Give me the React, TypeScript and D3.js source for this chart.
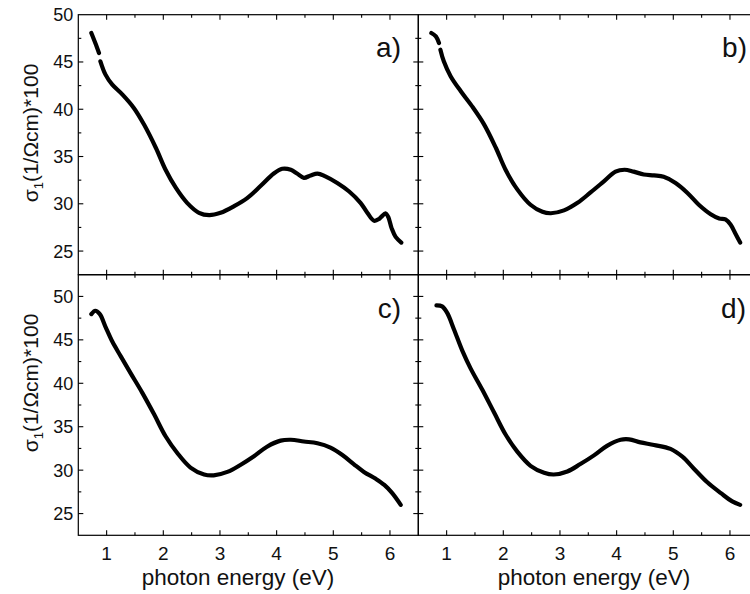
import React from "react";
import * as d3 from "d3";

// ---- data (photon energy in eV, sigma_1 in (1/Ωcm)*100); null marks a gap ----
const energyA = [0.73, 0.8, 0.865, 0.875, 0.89, 0.98, 1.1, 1.28, 1.48, 1.66, 1.87, 2.04, 2.22, 2.42, 2.63, 2.81, 3.01, 3.25, 3.48, 3.72, 3.95, 4.1, 4.25, 4.36, 4.48, 4.6, 4.72, 4.86, 5.07, 5.28, 5.48, 5.6, 5.72, 5.81, 5.86, 5.92, 5.97, 6.03, 6.1, 6.2];
const sigmaA = [48.06, 47.0, 45.95, null, 45.07, 43.66, 42.6, 41.55, 40.14, 38.38, 35.9, 33.6, 31.7, 30.1, 29.05, 28.8, 29.05, 29.75, 30.6, 31.9, 33.2, 33.7, 33.6, 33.2, 32.75, 33.0, 33.2, 32.9, 32.2, 31.3, 30.1, 29.05, 28.2, 28.4, 28.7, 29.0, 28.6, 27.4, 26.5, 25.9];

const energyB = [0.73, 0.81, 0.865, 0.875, 0.89, 0.95, 1.07, 1.25, 1.45, 1.66, 1.87, 2.04, 2.25, 2.48, 2.69, 2.84, 3.07, 3.31, 3.54, 3.78, 3.98, 4.14, 4.3, 4.48, 4.66, 4.83, 5.04, 5.25, 5.45, 5.66, 5.81, 5.92, 6.01, 6.1, 6.18];
const sigmaB = [48.06, 47.7, 47.0, null, 46.3, 45.07, 43.5, 41.9, 40.3, 38.4, 35.9, 33.6, 31.5, 29.9, 29.15, 29.0, 29.3, 30.1, 31.2, 32.4, 33.4, 33.6, 33.4, 33.1, 33.0, 32.85, 32.2, 31.15, 29.9, 28.9, 28.45, 28.35, 27.8, 26.8, 25.9];

const energyC = [0.73, 0.8, 0.88, 0.98, 1.1, 1.25, 1.42, 1.63, 1.84, 2.04, 2.25, 2.48, 2.72, 2.89, 3.13, 3.36, 3.6, 3.83, 4.07, 4.25, 4.48, 4.72, 4.95, 5.16, 5.36, 5.54, 5.75, 5.9, 6.04, 6.19];
const sigmaC = [47.96, 48.35, 47.96, 46.5, 44.8, 43.1, 41.2, 38.9, 36.4, 33.9, 31.95, 30.3, 29.5, 29.4, 29.8, 30.6, 31.6, 32.7, 33.4, 33.5, 33.3, 33.1, 32.6, 31.75, 30.7, 29.8, 29.0, 28.3, 27.35, 26.0];

const energyD = [0.82, 0.92, 1.01, 1.13, 1.28, 1.42, 1.63, 1.84, 2.04, 2.25, 2.48, 2.72, 2.89, 3.13, 3.36, 3.6, 3.83, 4.07, 4.22, 4.42, 4.66, 4.95, 5.16, 5.36, 5.6, 5.84, 6.04, 6.18];
const sigmaD = [48.96, 48.85, 48.1, 46.2, 43.7, 41.75, 39.25, 36.6, 34.1, 32.1, 30.5, 29.7, 29.5, 29.85, 30.7, 31.7, 32.8, 33.5, 33.55, 33.2, 32.9, 32.45, 31.55, 30.2, 28.6, 27.35, 26.4, 26.0];

const panelLabels = ["a)", "b)", "c)", "d)"];
const xMajorTicks = [1, 2, 3, 4, 5, 6];
const yMajorTicks = [25, 30, 35, 40, 45, 50];
const xTitle = "photon energy (eV)";

const W = 750;
const H = 594;
const X0 = 78.3, X1 = 418.3, X2 = 758.3;
const Y0 = 14.7, Y1 = 274.7, Y2 = 535.3;

const FONT = "Arial, 'Liberation Sans', sans-serif";

type PanelProps = {
  energy: number[];
  sigma: (number | null)[];
  left: number;
  right: number;
  top: number;
  bottom: number;
  yDomain: [number, number];
  label: string;
  showY: boolean;
  showX: boolean;
  labelX: number;
  labelY: number;
};

function Panel(p: PanelProps) {
  const x = d3.scaleLinear().domain([0.5, 6.5]).range([p.left, p.right]);
  const y = d3.scaleLinear().domain(p.yDomain).range([p.bottom, p.top]);
  const pts = p.energy.map((e, i) => [e, p.sigma[i]] as [number, number | null]);
  const line = d3
    .line<[number, number | null]>()
    .defined((d) => d[1] !== null)
    .x((d) => x(d[0]))
    .y((d) => y(d[1] as number))
    .curve(d3.curveCatmullRom.alpha(0.5));
  const xTicks = d3.range(1, 6.01, 0.5);
  const yTicks = d3.range(Math.ceil(p.yDomain[0] / 2.5) * 2.5, p.yDomain[1] - 0.01, 2.5).filter((v) => v > p.yDomain[0] + 0.01);
  const tl = (major: boolean) => (major ? 5 : 3);
  return (
    <g>
      <path d={line(pts) || ""} fill="none" stroke="#000" strokeWidth={4.2} strokeLinecap="round" strokeLinejoin="round" />
      <rect x={p.left} y={p.top} width={p.right - p.left} height={p.bottom - p.top} fill="none" stroke="#000" strokeWidth={1.2} />
      {xTicks.map((t) => {
        const major = Math.abs(t - Math.round(t)) < 1e-6;
        const xx = x(t);
        return (
          <g key={"xt" + t}>
            <line x1={xx} x2={xx} y1={p.bottom} y2={p.bottom - tl(major)} stroke="#000" strokeWidth={1.1} />
            <line x1={xx} x2={xx} y1={p.top} y2={p.top + tl(major)} stroke="#000" strokeWidth={1.1} />
          </g>
        );
      })}
      {yTicks.map((t) => {
        const major = Math.abs(t / 5 - Math.round(t / 5)) < 1e-6;
        const yy = y(t);
        return (
          <g key={"yt" + t}>
            <line x1={p.left} x2={p.left + tl(major)} y1={yy} y2={yy} stroke="#000" strokeWidth={1.1} />
            <line x1={p.right} x2={p.right - tl(major)} y1={yy} y2={yy} stroke="#000" strokeWidth={1.1} />
          </g>
        );
      })}
      {p.showY &&
        yMajorTicks
          .filter((t) => t >= p.yDomain[0] && t <= p.yDomain[1])
          .map((t) => (
            <text key={"yl" + t} x={p.left - 5} y={y(t)} dy="0.36em" textAnchor="end" fontSize={18} fontFamily={FONT} fill="#111">
              {t}
            </text>
          ))}
      {p.showX &&
        xMajorTicks.map((t) => (
          <text key={"xl" + t} x={x(t)} y={p.bottom + 25} textAnchor="middle" fontSize={19} fontFamily={FONT} fill="#111">
            {t}
          </text>
        ))}
      <text x={p.labelX} y={p.labelY} textAnchor="end" fontSize={28} fontFamily={FONT} fill="#111">
        {p.label}
      </text>
    </g>
  );
}

function YTitle({ cx, cy }: { cx: number; cy: number }) {
  return (
    <text transform={`translate(${cx},${cy}) rotate(-90)`} textAnchor="middle" fontSize={21} fontFamily={FONT} fill="#111">
      σ<tspan fontSize={13} dy={5}>1</tspan>
      <tspan dy={-5}>(1/Ωcm)*100</tspan>
    </text>
  );
}

export default function App() {
  return (
    <svg width={W} height={H} style={{ position: "absolute", left: 0, top: 0, background: "#fff" }}>
      <rect x={0} y={0} width={W} height={H} fill="#fff" />
      <Panel energy={energyA} sigma={sigmaA} left={X0} right={X1} top={Y0} bottom={Y1} yDomain={[22.5, 50]} label={panelLabels[0]} showY showX={false} labelX={401} labelY={57} />
      <Panel energy={energyB} sigma={sigmaB} left={X1} right={X2} top={Y0} bottom={Y1} yDomain={[22.5, 50]} label={panelLabels[1]} showY={false} showX={false} labelX={747} labelY={57} />
      <Panel energy={energyC} sigma={sigmaC} left={X0} right={X1} top={Y1} bottom={Y2} yDomain={[22.5, 52.5]} label={panelLabels[2]} showY showX labelX={401} labelY={318} />
      <Panel energy={energyD} sigma={sigmaD} left={X1} right={X2} top={Y1} bottom={Y2} yDomain={[22.5, 52.5]} label={panelLabels[3]} showY={false} showX labelX={746} labelY={318} />
      <YTitle cx={37.5} cy={133} />
      <YTitle cx={37.5} cy={383} />
      <text x={238} y={585} textAnchor="middle" fontSize={22.5} fontFamily={FONT} fill="#111">{xTitle}</text>
      <text x={594} y={585} textAnchor="middle" fontSize={22.5} fontFamily={FONT} fill="#111">{xTitle}</text>
    </svg>
  );
}
